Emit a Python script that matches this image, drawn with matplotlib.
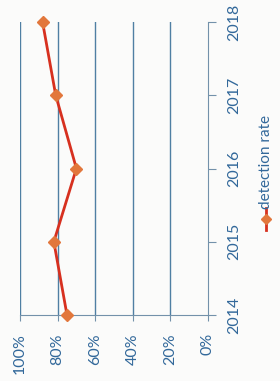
import matplotlib.pyplot as plt
from matplotlib.lines import Line2D

# data
years = [2014, 2015, 2016, 2017, 2018]
detection_rate = [75, 82, 70, 81, 88]  # percent
pct_ticks = [100, 80, 60, 40, 20, 0]
pct_labels = ["100%", "80%", "60%", "40%", "20%", "0%"]

grid_col = "#4f7fa3"
axis_col = "#7391aa"
text_col = "#32689a"
line_col = "#d7301f"
marker_col = "#e2773c"

plt.rcParams["font.family"] = ["Lato", "DejaVu Sans"]

W, H = 280, 381
fig = plt.figure(figsize=(W / 100, H / 100), dpi=100)
fig.patch.set_facecolor("#fbfbfa")

# chart is shown rotated: percent runs along the bottom, years up the right side
ax = fig.add_axes([20 / W, (H - 315) / H, (208 - 20) / W, (315 - 22) / H])
ax.set_facecolor("none")
ax.plot(detection_rate, years, color=line_col, lw=2, marker="D", ms=6,
        mfc=marker_col, mec=marker_col, zorder=3, clip_on=False)

ax.set_xlim(100, 0)
ax.set_ylim(2014, 2018)
ax.set_xticks(pct_ticks)
ax.set_xticklabels(pct_labels, rotation=90, color=text_col, fontsize=11.5)
ax.set_yticks(years)
ax.yaxis.tick_right()
ax.set_yticklabels([str(y) for y in years], rotation=90, va="center",
                   color=text_col, fontsize=11.5)

for x in pct_ticks[:-1]:
    ax.axvline(x, color=grid_col, lw=1, zorder=1)

for s in ["top", "left"]:
    ax.spines[s].set_visible(False)
ax.spines["right"].set_color(axis_col)
ax.spines["bottom"].set_color(axis_col)
ax.tick_params(axis="x", length=4, color=axis_col, pad=9)
ax.tick_params(axis="y", length=6, color=axis_col, pad=8)

# manual rotated legend
lx = 266 / W
fig.add_artist(Line2D([lx, lx], [(H - 230) / H, (H - 208) / H],
                      color=line_col, lw=2, transform=fig.transFigure))
fig.add_artist(Line2D([lx], [(H - 219) / H], marker="D", ms=5.5,
                      mfc=marker_col, mec=marker_col, transform=fig.transFigure))
fig.text(lx, (H - 209) / H, "detection rate", rotation=90, ha="center",
         va="bottom", color=text_col, fontsize=11)

fig.savefig("out.png", dpi=100, facecolor=fig.get_facecolor())
